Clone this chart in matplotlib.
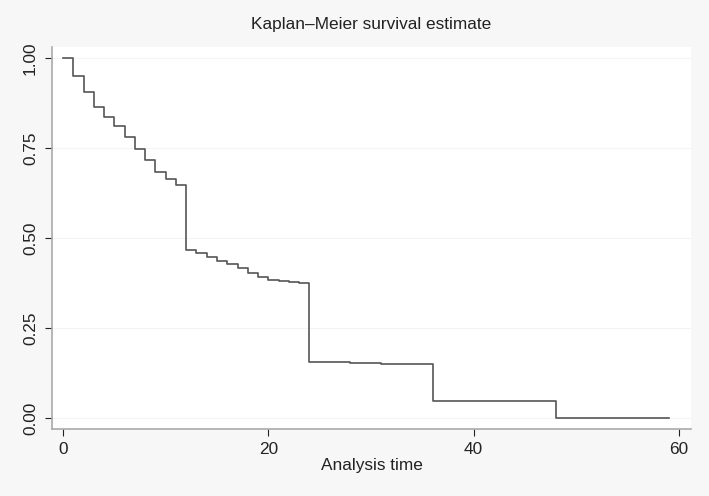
import matplotlib
matplotlib.use("Agg")
import matplotlib.pyplot as plt
import numpy as np

plt.rcParams['font.family'] = ['Liberation Sans', 'DejaVu Sans']

# Kaplan-Meier step data (time at which each level starts)
times = [0, 1, 2, 3, 4, 5, 6, 7, 8, 9, 10, 11, 12, 13, 14, 15, 16, 17, 18, 19,
         20, 21, 22, 23, 24, 26, 28, 31, 36, 48]
survival = [1.0, 0.95, 0.906, 0.864, 0.836, 0.812, 0.781, 0.747, 0.717, 0.684,
            0.663, 0.646, 0.468, 0.459, 0.448, 0.436, 0.429, 0.418, 0.402, 0.393,
            0.383, 0.380, 0.378, 0.376, 0.156, 0.155, 0.154, 0.151, 0.047, 0.0]
end_time = 59

x_ticks = [0, 20, 40, 60]
y_ticks = [0.0, 0.25, 0.5, 0.75, 1.0]
y_ticklabels = ["0.00", "0.25", "0.50", "0.75", "1.00"]

fig = plt.figure(figsize=(7.09, 4.96), dpi=100, facecolor='#f7f7f7')
ax = fig.add_axes([52/709, 67/496, (691-52)/709, (429-47)/496])
ax.set_facecolor('white')

xs = times + [end_time]
ys = survival + [survival[-1]]
ax.step(xs, ys, where='post', color='#555555', lw=1.2, zorder=3)

ax.set_xlim(-1.07, 61.17)
ax.set_ylim(-0.0306, 1.0306)
ax.set_xticks(x_ticks)
ax.set_yticks(y_ticks)
ax.set_yticklabels(y_ticklabels, rotation=90, va='center')
ax.grid(axis='y', color='#f4f4f4', lw=0.8)
ax.set_axisbelow(True)

for s in ['top', 'right']:
    ax.spines[s].set_visible(False)
for s in ['left', 'bottom']:
    ax.spines[s].set_color('#aaaaaa')
    ax.spines[s].set_linewidth(1.2)
ax.tick_params(axis='both', colors='#222222', labelsize=12.4, length=5, width=0.8,
               labelcolor='#222222')
ax.tick_params(axis='y', pad=5)
ax.tick_params(axis='x', pad=4)

ax.set_xlabel('Analysis time', fontsize=12.4, color='#222222', labelpad=1)
fig.text((52 + 691) / 2 / 709, 1 - 25 / 496, 'Kaplan\u2013Meier survival estimate',
         ha='center', va='center', fontsize=12.4, color='#222222')

fig.savefig('out.png', dpi=100, facecolor=fig.get_facecolor())
